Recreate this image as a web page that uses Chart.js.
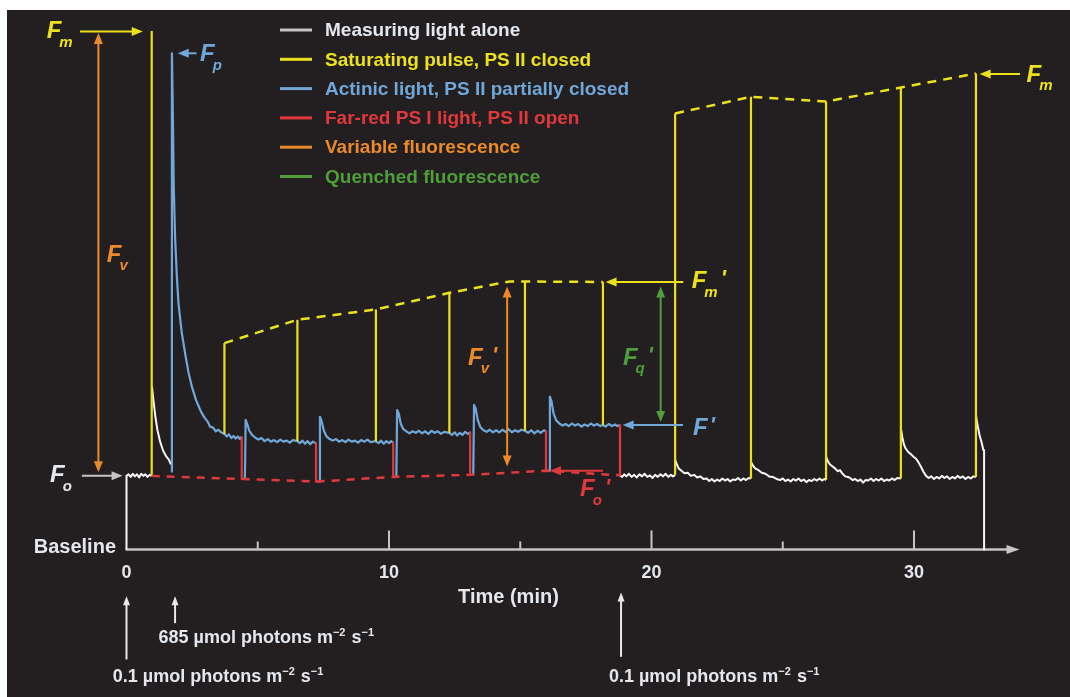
<!DOCTYPE html>
<html>
<head>
<meta charset="utf-8">
<script src="https://cdn.jsdelivr.net/npm/chart.js@4.4.1/dist/chart.umd.min.js"></script>
<style>
html, body { margin: 0; padding: 0; background: #ffffff; }
#wrap { position: absolute; left: 7px; top: 10px; width: 1063px; height: 687px; background: #231f20; }
</style>
</head>
<body>
<div id="wrap"><canvas id="pam" width="1063" height="687"></canvas></div>
<script>
// time in min, fluorescence in arbitrary units (baseline = 0, first Fm = 100)

// measuring light alone, before the first saturating pulse
var darkStart = [[0,0],[0,14.2],[0.08,14.5],[0.16,14.0],[0.24,14.6],[0.32,14.1],[0.4,14.5],[0.48,13.9],[0.56,14.6],[0.64,14.2],[0.72,14.5],[0.8,14.0],[0.88,14.4],[0.96,14.2]];
var darkDecay1 = [[0.97,31.4],[1.03,28.6],[1.1,25.6],[1.18,23.0],[1.28,20.8],[1.4,19.0],[1.52,17.9],[1.62,17.3],[1.69,16.4]];

// actinic light segments (blue), split by the far-red drops
var actinic1 = [[1.71,15.0],[1.73,95.7],[1.76,86],[1.8,70],[1.85,60.3],[1.92,52.5],[1.98,47.5],[2.1,42.0],[2.23,37.9],[2.36,34.2],[2.49,31.4],[2.65,28.8],[2.8,27.0],[2.87,26.3],[2.98,25.4],[3.1,24.6],[3.18,23.7],[3.3,23.5],[3.4,22.8],[3.5,23.1],[3.6,22.6],[3.73,22.3],[3.82,21.8],[3.9,22.2],[4.0,21.5],[4.08,21.9],[4.16,21.4],[4.24,21.8],[4.32,21.3],[4.39,21.7]];
var actinic2 = [[4.51,13.6],[4.54,25.0],[4.6,24.2],[4.68,22.9],[4.78,22.1],[4.9,21.6],[5.02,21.2],[5.14,21.5],[5.26,20.9],[5.38,21.3],[5.5,20.8],[5.62,21.1],[5.74,20.7],[5.86,21.2],[5.98,20.8],[6.1,21.0],[6.22,20.6],[6.34,21.1],[6.51,20.9],[6.6,20.5],[6.7,21.0],[6.8,20.4],[6.9,20.9],[7.0,20.3],[7.1,20.8],[7.22,20.5]];
var actinic3 = [[7.34,13.1],[7.37,25.6],[7.43,24.8],[7.52,22.9],[7.62,21.8],[7.74,21.3],[7.86,21.0],[7.98,21.3],[8.1,20.8],[8.22,21.1],[8.34,20.7],[8.46,21.2],[8.58,20.8],[8.7,21.0],[8.82,20.6],[8.94,21.1],[9.06,20.8],[9.18,21.2],[9.3,20.7],[9.5,20.9],[9.6,20.5],[9.7,21.0],[9.8,20.4],[9.9,20.9],[10.0,20.5],[10.08,20.9],[10.16,20.6]];
var actinic4 = [[10.28,14.0],[10.31,26.9],[10.37,26.3],[10.45,24.2],[10.55,23.2],[10.66,22.8],[10.78,22.4],[10.9,22.8],[11.02,22.5],[11.14,22.9],[11.26,22.4],[11.38,22.8],[11.5,22.3],[11.62,22.9],[11.74,22.5],[11.86,22.8],[11.98,22.3],[12.1,22.7],[12.3,22.5],[12.4,22.1],[12.5,22.6],[12.6,22.0],[12.7,22.5],[12.8,22.1],[12.9,22.7],[13.0,22.3],[13.09,22.6]];
var actinic5 = [[13.21,14.4],[13.24,27.9],[13.3,27.2],[13.38,25.0],[13.48,23.6],[13.6,23.0],[13.72,22.7],[13.84,23.1],[13.96,22.6],[14.08,23.0],[14.2,22.6],[14.32,23.1],[14.44,22.7],[14.56,23.2],[14.68,22.6],[14.8,23.0],[14.92,22.7],[15.04,23.1],[15.18,22.9],[15.3,22.5],[15.42,23.0],[15.54,22.4],[15.66,22.9],[15.78,22.5],[15.9,23.0],[15.98,22.8]];
var actinic6 = [[16.1,15.2],[16.13,29.5],[16.19,28.6],[16.27,26.2],[16.37,24.9],[16.49,24.3],[16.61,23.9],[16.73,24.2],[16.85,23.8],[16.97,24.3],[17.09,23.9],[17.21,24.2],[17.33,23.7],[17.45,24.1],[17.57,23.8],[17.69,24.3],[17.81,23.9],[17.93,24.2],[18.05,23.8],[18.15,24.0],[18.25,23.7],[18.37,24.2],[18.49,23.8],[18.61,24.1],[18.7,23.8],[18.8,24.0]];

// far-red drops (red)
var farRed1 = [[4.39,21.7],[4.39,13.6],[4.51,13.6]];
var farRed2 = [[7.22,20.5],[7.22,13.1],[7.34,13.1]];
var farRed3 = [[10.16,20.6],[10.16,14.0],[10.28,14.0]];
var farRed4 = [[13.09,22.6],[13.09,14.4],[13.21,14.4]];
var farRed5 = [[15.98,22.8],[15.98,15.2],[16.1,15.2]];
var farRed6 = [[18.8,24.0],[18.8,14.3]];

// measuring light alone after actinic light off
var darkRecovery = [[18.8,14.3],[18.88,14.0],[18.96,14.5],[19.04,14.1],[19.14,14.6],[19.24,14.0],[19.34,14.4],[19.44,13.9],[19.54,14.5],[19.64,14.1],[19.74,14.6],[19.84,14.0],[19.94,14.3],[20.04,13.8],[20.14,14.4],[20.24,14.0],[20.34,14.5],[20.44,14.1],[20.54,14.6],[20.64,14.0],[20.74,14.4],[20.82,14.1],[20.9,14.4]];
var darkDecay8 = [[20.9,17.3],[20.96,16.5],[21.04,15.6],[21.14,15.2],[21.26,14.7],[21.38,14.8],[21.5,14.2],[21.62,14.4],[21.74,13.9],[21.86,14.1],[21.98,13.6],[22.1,13.7],[22.2,13.2],[22.3,13.6],[22.4,13.1],[22.5,13.5],[22.6,13.2],[22.7,13.7],[22.8,13.3],[22.9,13.6],[23.0,13.1],[23.1,13.5],[23.2,13.4],[23.3,13.8],[23.4,13.3],[23.5,13.7],[23.6,13.4],[23.7,13.8],[23.79,13.7]];
var darkDecay9 = [[23.79,16.9],[23.86,16.2],[23.96,15.6],[24.08,15.3],[24.2,14.8],[24.34,14.6],[24.48,14.1],[24.62,14.0],[24.76,13.6],[24.9,13.4],[25.0,13.7],[25.1,13.2],[25.2,13.5],[25.3,13.1],[25.4,13.6],[25.5,13.3],[25.6,13.7],[25.7,13.2],[25.8,13.5],[25.9,13.0],[26.0,13.4],[26.1,13.2],[26.2,13.6],[26.3,13.3],[26.4,13.7],[26.5,13.3],[26.58,13.6],[26.65,13.4]];
var darkDecay10 = [[26.65,17.9],[26.72,17.0],[26.8,16.4],[26.9,16.0],[27.0,15.6],[27.1,15.1],[27.18,15.3],[27.28,14.6],[27.38,14.1],[27.48,14.0],[27.56,13.8],[27.66,13.4],[27.76,13.6],[27.86,13.2],[27.96,13.5],[28.06,12.9],[28.16,13.4],[28.26,13.3],[28.36,13.7],[28.46,13.2],[28.56,13.6],[28.66,13.3],[28.76,13.7],[28.86,13.2],[28.96,13.5],[29.06,13.3],[29.16,13.7],[29.26,13.4],[29.36,13.8],[29.5,13.7]];
var darkDecay11 = [[29.5,23.4],[29.56,21.5],[29.62,20.2],[29.68,19.5],[29.78,18.8],[29.88,18.4],[29.98,17.9],[30.08,17.5],[30.16,16.9],[30.26,16.0],[30.36,15.0],[30.46,14.2],[30.56,13.8],[30.66,14.1],[30.76,13.6],[30.86,14.0],[30.96,13.7],[31.06,14.2],[31.16,13.8],[31.26,14.1],[31.36,13.6],[31.46,14.0],[31.56,13.7],[31.66,14.2],[31.76,13.8],[31.86,14.1],[31.96,13.6],[32.06,14.0],[32.16,13.7],[32.26,14.1],[32.36,14.0]];
var darkDecay12 = [[32.36,25.9],[32.42,24.0],[32.5,22.0],[32.58,20.6],[32.64,19.2],[32.67,19.2],[32.67,0]];

// saturating pulses
var pulseTimes = [0.96, 3.73, 6.51, 9.50, 12.30, 15.18, 18.15, 20.90, 23.79, 26.65, 29.50, 32.36];
var pulseBase  = [14.2, 22.3, 20.9, 20.9, 22.5, 22.9, 24.0, 14.4, 13.7, 13.4, 13.7, 14.0];
var pulseTop   = [100, 39.8, 44.3, 46.3, 49.5, 51.6, 51.6, 84.1, 87.3, 86.4, 89.1, 91.8];

// dashed envelopes
var fmPrimeLine = [[3.73,39.8],[6.51,44.3],[9.50,46.3],[12.30,49.5],[14.6,51.7],[18.15,51.6]];
var fmDarkLine = [[20.90,84.1],[23.79,87.3],[26.65,86.4],[29.50,89.1],[32.36,91.8]];
var foPrimeLine = [[0.96,14.2],[4.39,13.6],[7.22,13.1],[10.16,14.0],[13.09,14.4],[15.98,15.2],[18.8,14.3]];

// axis
var majorTicks = [10, 20, 30];
var minorTicks = [5, 15, 25];
var tickLabels = ['0', '10', '20', '30'];
var tickLabelTimes = [0, 10, 20, 30];
var axisEnd = 34.02;

var legendNames = ['Measuring light alone', 'Saturating pulse, PS II closed', 'Actinic light, PS II partially closed', 'Far-red PS I light, PS II open', 'Variable fluorescence', 'Quenched fluorescence'];

var WHITE = '#f6f6f6', YELLOW = '#ece21c', BLUE = '#70a7d8', RED = '#e0393c',
    ORANGE = '#ea8a2a', GREEN = '#4e9e3a', AXIS = '#c4c4c4', TEXT = '#e4e7ee';
var legendColors = [AXIS, YELLOW, BLUE, RED, ORANGE, GREEN];
var legendTextColors = [TEXT, YELLOW, BLUE, RED, ORANGE, GREEN];
var FONT = '"Liberation Sans", Arial, sans-serif';

function pts(a) { return a.map(function (p) { return { x: p[0], y: p[1] }; }); }
function seg(a, color, width, dash, order) {
  return {
    data: pts(a), borderColor: color, borderWidth: width, borderDash: dash || [],
    pointRadius: 0, showLine: true, fill: false, tension: 0, order: order,
    borderJoinStyle: 'round', borderCapStyle: 'butt'
  };
}

var datasets = [];
[darkStart, darkDecay1, darkRecovery, darkDecay8, darkDecay9, darkDecay10, darkDecay11, darkDecay12].forEach(function (a) {
  datasets.push(seg(a, WHITE, 2, null, 5));
});
[actinic1, actinic2, actinic3, actinic4, actinic5, actinic6].forEach(function (a) {
  datasets.push(seg(a, BLUE, 2.2, null, 4));
});
[farRed1, farRed2, farRed3, farRed4, farRed5, farRed6].forEach(function (a) {
  datasets.push(seg(a, RED, 2.2, null, 3));
});
pulseTimes.forEach(function (t, i) {
  datasets.push(seg([[t, pulseBase[i]], [t, pulseTop[i]]], YELLOW, 2.2, null, 2));
});
datasets.push(seg(fmPrimeLine, YELLOW, 2.5, [9, 7], 1));
datasets.push(seg(fmDarkLine, YELLOW, 2.5, [9, 7], 1));
datasets.push(seg(foPrimeLine, RED, 2.5, [8, 7], 1));

// label and arrow positions, in (time, fluorescence)
var arrows = [
  { t1: -1.77, f1: 99.9, t2: 0.62, f2: 99.9, color: YELLOW, a: false, b: true },   // Fm
  { t1: -1.07, f1: 99.6, t2: -1.07, f2: 14.9, color: ORANGE, a: true, b: true },   // Fv
  { t1: 2.67, f1: 95.7, t2: 1.95, f2: 95.7, color: BLUE, a: false, b: true },       // Fp
  { t1: -1.70, f1: 14.2, t2: -0.15, f2: 14.2, color: AXIS, a: false, b: true },    // Fo
  { t1: 21.21, f1: 51.6, t2: 18.25, f2: 51.6, color: YELLOW, a: false, b: true },  // Fm'
  { t1: 21.2, f1: 24.0, t2: 18.9, f2: 24.0, color: BLUE, a: false, b: true },      // F'
  { t1: 14.5, f1: 50.7, t2: 14.5, f2: 16.0, color: ORANGE, a: true, b: true },     // Fv'
  { t1: 20.35, f1: 50.7, t2: 20.35, f2: 24.6, color: GREEN, a: true, b: true },    // Fq'
  { t1: 18.15, f1: 15.2, t2: 16.13, f2: 15.2, color: RED, a: false, b: true },     // Fo'
  { t1: 34.04, f1: 91.7, t2: 32.5, f2: 91.7, color: YELLOW, a: false, b: true },   // Fm right
  { t1: 0, f1: -21.2, t2: 0, f2: -9.0, color: '#e8e8e8', a: false, b: true, small: true },
  { t1: 1.85, f1: -14.2, t2: 1.85, f2: -9.0, color: '#e8e8e8', a: false, b: true, small: true },
  { t1: 18.84, f1: -20.7, t2: 18.84, f2: -8.3, color: '#e8e8e8', a: false, b: true, small: true }
];
var fLabels = [
  { t: -3.04, f: 99.9, sub: 'm', prime: false, color: YELLOW },
  { t: -0.75, f: 56.8, sub: 'v', prime: false, color: ORANGE },
  { t: 2.80, f: 95.4, sub: 'p', prime: false, color: BLUE },
  { t: -2.91, f: 14.2, sub: 'o', prime: false, color: TEXT },
  { t: 21.53, f: 51.7, sub: 'm', prime: true, color: YELLOW },
  { t: 21.58, f: 23.4, sub: '', prime: true, color: BLUE },
  { t: 13.01, f: 36.9, sub: 'v', prime: true, color: ORANGE },
  { t: 18.91, f: 36.9, sub: 'q', prime: true, color: GREEN },
  { t: 17.28, f: 11.5, sub: 'o', prime: true, color: RED },
  { t: 34.29, f: 91.5, sub: 'm', prime: false, color: YELLOW }
];
var lightLabels = [
  { t: 1.22, f: -17.1, parts: [['685 \u00b5mol photons m', 0], ['\u22122', 1], [' s', 0], ['\u22121', 1]] },
  { t: -0.52, f: -24.6, parts: [['0.1 \u00b5mol photons m', 0], ['\u22122', 1], [' s', 0], ['\u22121', 1]] },
  { t: 18.38, f: -24.6, parts: [['0.1 \u00b5mol photons m', 0], ['\u22122', 1], [' s', 0], ['\u22121', 1]] }
];

function head(ctx, x, y, ang, len, wid) {
  ctx.beginPath();
  ctx.moveTo(x, y);
  ctx.lineTo(x - len * Math.cos(ang) + wid / 2 * Math.sin(ang), y - len * Math.sin(ang) - wid / 2 * Math.cos(ang));
  ctx.lineTo(x - len * Math.cos(ang) - wid / 2 * Math.sin(ang), y - len * Math.sin(ang) + wid / 2 * Math.cos(ang));
  ctx.closePath();
  ctx.fill();
}

var overlay = {
  id: 'overlay',
  beforeDatasetsDraw: function (chart) {
    var ctx = chart.ctx, sx = chart.scales.x, sy = chart.scales.y;
    var x0 = sx.getPixelForValue(0), x1 = sx.getPixelForValue(axisEnd), y0 = sy.getPixelForValue(0);
    ctx.save();
    ctx.strokeStyle = AXIS; ctx.fillStyle = AXIS; ctx.lineWidth = 2.5;
    ctx.beginPath(); ctx.moveTo(x0 - 1, y0); ctx.lineTo(x1 - 8, y0); ctx.stroke();
    head(ctx, x1, y0, 0, 13, 9);
    ctx.lineWidth = 2;
    majorTicks.forEach(function (t) {
      var x = sx.getPixelForValue(t);
      ctx.beginPath(); ctx.moveTo(x, y0); ctx.lineTo(x, y0 - 19); ctx.stroke();
    });
    minorTicks.forEach(function (t) {
      var x = sx.getPixelForValue(t);
      ctx.beginPath(); ctx.moveTo(x, y0); ctx.lineTo(x, y0 - 8); ctx.stroke();
    });
    ctx.restore();
  },
  afterDatasetsDraw: function (chart) {
    var ctx = chart.ctx, sx = chart.scales.x, sy = chart.scales.y;
    var X = function (t) { return sx.getPixelForValue(t); };
    var Y = function (f) { return sy.getPixelForValue(f); };
    ctx.save();

    // arrows
    arrows.forEach(function (a) {
      var x1 = X(a.t1), y1 = Y(a.f1), x2 = X(a.t2), y2 = Y(a.f2);
      var ang = Math.atan2(y2 - y1, x2 - x1);
      var hl = a.small ? 9 : 11, hw = a.small ? 7 : 9;
      ctx.strokeStyle = a.color; ctx.fillStyle = a.color; ctx.lineWidth = 2;
      ctx.beginPath();
      ctx.moveTo(x1 + (a.a ? hl * 0.7 * Math.cos(ang) : 0), y1 + (a.a ? hl * 0.7 * Math.sin(ang) : 0));
      ctx.lineTo(x2 - (a.b ? hl * 0.7 * Math.cos(ang) : 0), y2 - (a.b ? hl * 0.7 * Math.sin(ang) : 0));
      ctx.stroke();
      if (a.b) head(ctx, x2, y2, ang, hl, hw);
      if (a.a) head(ctx, x1, y1, ang + Math.PI, hl, hw);
    });

    // F labels
    ctx.textBaseline = 'middle'; ctx.textAlign = 'left';
    fLabels.forEach(function (l) {
      var x = X(l.t), y = Y(l.f);
      ctx.fillStyle = l.color;
      ctx.font = 'italic bold 24px ' + FONT;
      ctx.fillText('F', x, y);
      var cx = x + ctx.measureText('F').width;
      if (l.sub) {
        ctx.font = 'italic bold 15px ' + FONT;
        ctx.fillText(l.sub, cx - 2, y + 11);
        cx += ctx.measureText(l.sub).width - 1;
      }
      if (l.prime) {
        ctx.font = 'italic bold 22px ' + FONT;
        ctx.fillText("'", cx + 2, y - 2);
      }
    });

    // axis text
    ctx.fillStyle = TEXT;
    ctx.font = 'bold 18px ' + FONT;
    ctx.textAlign = 'center';
    tickLabels.forEach(function (s, i) { ctx.fillText(s, X(tickLabelTimes[i]), Y(-4.5)); });
    ctx.font = 'bold 20px ' + FONT;
    ctx.fillText('Time (min)', X(14.55), Y(-9.2));
    ctx.textAlign = 'right';
    ctx.font = 'bold 20px ' + FONT;
    ctx.fillText('Baseline', X(-0.4), Y(0.4));

    // light intensity labels
    ctx.textAlign = 'left';
    lightLabels.forEach(function (l) {
      var cx = X(l.t), y = Y(l.f);
      l.parts.forEach(function (p) {
        ctx.font = 'bold ' + (p[1] ? 11 : 18) + 'px ' + FONT;
        ctx.fillText(p[0], cx, p[1] ? y - 5 : y);
        cx += ctx.measureText(p[0]).width + (p[1] ? 1 : 0);
      });
    });

    // legend
    legendNames.forEach(function (name, i) {
      var y = 20 + i * 29.3;
      ctx.strokeStyle = legendColors[i]; ctx.lineWidth = 3;
      ctx.beginPath(); ctx.moveTo(273, y); ctx.lineTo(305, y); ctx.stroke();
      ctx.fillStyle = legendTextColors[i];
      ctx.font = 'bold 19px ' + FONT;
      ctx.fillText(name, 318, y + 1);
    });
    ctx.restore();
  }
};

var chart = new Chart(document.getElementById('pam').getContext('2d'), {
  type: 'scatter',
  data: { datasets: datasets },
  options: {
    responsive: false,
    animation: false,
    events: [],
    layout: { padding: 0 },
    plugins: { legend: { display: false }, tooltip: { enabled: false } },
    scales: {
      x: { type: 'linear', display: false, min: -4.5524, max: 35.943 },
      y: { type: 'linear', display: false, min: -28.447, max: 104.05 }
    }
  },
  plugins: [overlay]
});
</script>
</body>
</html>
